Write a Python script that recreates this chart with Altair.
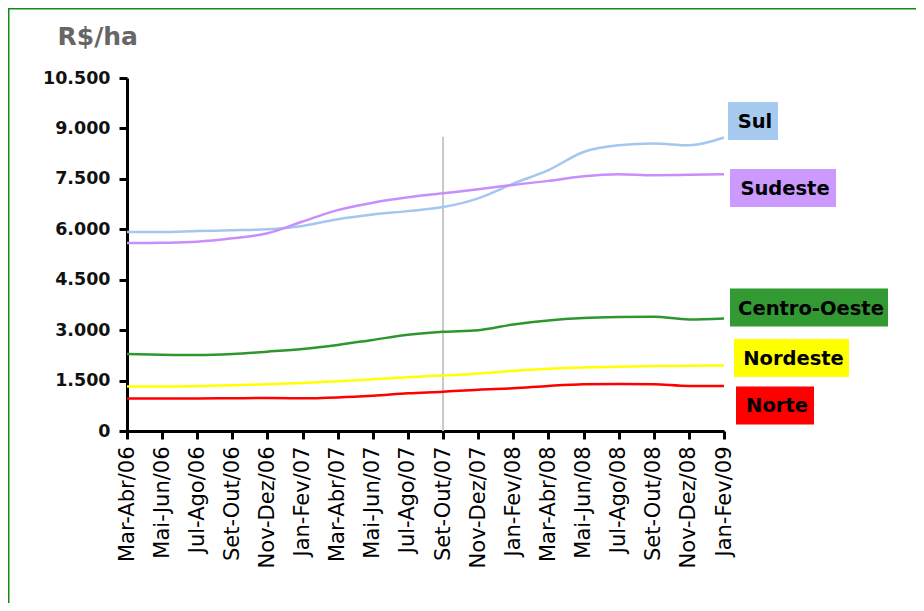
import altair as alt
import pandas as pd

periods = ["Mar-Abr/06", "Mai-Jun/06", "Jul-Ago/06", "Set-Out/06", "Nov-Dez/06",
           "Jan-Fev/07", "Mar-Abr/07", "Mai-Jun/07", "Jul-Ago/07", "Set-Out/07",
           "Nov-Dez/07", "Jan-Fev/08", "Mar-Abr/08", "Mai-Jun/08", "Jul-Ago/08",
           "Set-Out/08", "Nov-Dez/08", "Jan-Fev/09"]
regions = ["Sul", "Sudeste", "Centro-Oeste", "Nordeste", "Norte"]

sul = [5920, 5920, 5950, 5970, 6000, 6100, 6300, 6440, 6540, 6660,
       6920, 7360, 7760, 8300, 8500, 8550, 8500, 8730]
sudeste = [5590, 5600, 5630, 5730, 5880, 6230, 6570, 6790, 6950, 7070,
           7190, 7320, 7440, 7580, 7640, 7610, 7620, 7640]
centro_oeste = [2290, 2270, 2260, 2290, 2360, 2440, 2560, 2710, 2860, 2950,
                3000, 3170, 3290, 3360, 3390, 3400, 3320, 3350]
nordeste = [1320, 1320, 1340, 1360, 1390, 1430, 1480, 1540, 1600, 1650,
            1710, 1790, 1850, 1890, 1910, 1930, 1940, 1950]
norte = [970, 970, 970, 975, 980, 975, 1000, 1050, 1120, 1170,
         1230, 1270, 1340, 1390, 1400, 1390, 1340, 1340]
series = [sul, sudeste, centro_oeste, nordeste, norte]

y_ticks = [0, 1500, 3000, 4500, 6000, 7500, 9000, 10500]
label_values = [9220, 7230, 3670, 2170, 760]
marker_period = "Set-Out/07"
marker_top = 8750

line_colors = ["#a3c7ef", "#c78ffb", "#2f962f", "#ffff00", "#ff0000"]
box_colors = ["#a6caf0", "#cc99ff", "#339933", "#ffff00", "#ff0000"]
box_offsets = [(4, 54), (6, 112), (6, 164), (10, 125), (12, 90)]

rows = []
for r, vals in zip(regions, series):
    for p, v in zip(periods, vals):
        rows.append({"period": p, "region": r, "value": v})
df = pd.DataFrame(rows)

FONT = "DejaVu Sans"

x_enc = alt.X(
    "period:O",
    sort=periods,
    scale=alt.Scale(type="point", padding=0, domain=periods),
    axis=alt.Axis(
        title=None, labelAngle=270, labelFont=FONT, labelFontSize=21,
        labelFontWeight=500, labelColor="#000000", tickSize=8, tickWidth=3,
        tickColor="#000000", domainWidth=3, domainColor="#000000",
        labelPadding=7, grid=False,
    ),
)
y_enc = alt.Y(
    "value:Q",
    scale=alt.Scale(domain=[0, 10500], nice=False, zero=True),
    axis=alt.Axis(
        values=y_ticks,
        labelExpr="replace(format(datum.value, ',d'), ',', '.')",
        labelFont=FONT, labelFontSize=17.5, labelFontWeight="bold",
        labelColor="#111111", tickSize=8, tickWidth=3, tickColor="#000000",
        domainWidth=3, domainColor="#000000", labelPadding=9, grid=False,
        title="R$/ha", titleAngle=0, titleX=-70, titleY=-34,
        titleAlign="left", titleBaseline="alphabetic", titleFont=FONT,
        titleFontSize=25, titleFontWeight="bold", titleColor="#666666",
    ),
)

lines = alt.Chart(df).mark_line(interpolate="monotone", strokeWidth=2.5).encode(
    x=x_enc,
    y=y_enc,
    color=alt.Color("region:N", scale=alt.Scale(domain=regions, range=line_colors), legend=None),
    detail="region:N",
)

marker = alt.Chart(pd.DataFrame({"period": [marker_period], "zero": [0], "top": [marker_top]})).mark_rule(
    color="#c8c8c8", strokeWidth=2
).encode(
    x=alt.X("period:O", sort=periods),
    y=alt.Y("zero:Q"),
    y2="top:Q",
)

border_left = alt.Chart(pd.DataFrame({"a": [0]})).mark_rule(color="#138a13", strokeWidth=3).encode(
    x=alt.value(-119), y=alt.value(-71), y2=alt.value(540)
)
border_top = alt.Chart(pd.DataFrame({"a": [0]})).mark_rule(color="#138a13", strokeWidth=3).encode(
    y=alt.value(-70), x=alt.value(-120), x2=alt.value(800)
)

label_layers = []
last = periods[-1]
for name, val, col, (o1, o2) in zip(regions, label_values, box_colors, box_offsets):
    d = pd.DataFrame({"region": [name]})
    box = alt.Chart(d).mark_rect(
        color=col, xOffset=o1, x2Offset=o2, yOffset=-19, y2Offset=19
    ).encode(
        x=alt.XDatum(last, type="ordinal"),
        x2=alt.X2Datum(last),
        y=alt.YDatum(val, type="quantitative"),
        y2=alt.Y2Datum(val),
    )
    txt = alt.Chart(d).mark_text(
        font=FONT, fontSize=19.5, fontWeight="bold", color="#000000",
        align="center", baseline="middle", xOffset=(o1 + o2) / 2 + 2, yOffset=1,
    ).encode(
        x=alt.XDatum(last, type="ordinal"),
        y=alt.YDatum(val, type="quantitative"),
        text="region:N",
    )
    label_layers += [box, txt]

chart = alt.layer(border_left, border_top, marker, lines, *label_layers).properties(
    width=597,
    height=353,
    autosize=alt.AutoSizeParams(type="none"),
    padding={"left": 119, "top": 70, "right": 192, "bottom": 172},
    background="#ffffff",
).configure_view(stroke=None)

chart.save("out.html", embed_options={"renderer": "svg", "actions": False})
